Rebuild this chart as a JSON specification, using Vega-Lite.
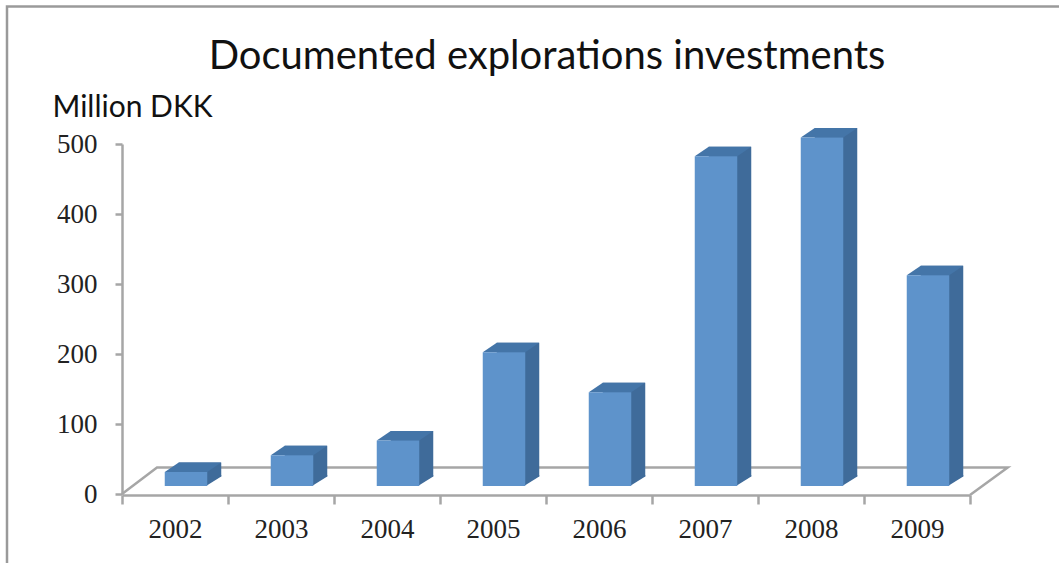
{
"$schema":"https://vega.github.io/schema/vega-lite/v6.json",
"width":848,"height":350,
"autosize":{"type":"none"},
"padding":{"left":122,"top":144,"right":89,"bottom":69},
"background":"white",
"view":{"stroke":null},
"title":{"text":"Documented explorations investments","font":"Lato","fontSize":40,"fontWeight":"normal","color":"#111111","anchor":"middle","frame":"group","baseline":"alphabetic","offset":-107,"dx":1},
"data":{"values":[
{"year":"2002","value":20},
{"year":"2003","value":44},
{"year":"2004","value":65},
{"year":"2005","value":191},
{"year":"2006","value":134},
{"year":"2007","value":471},
{"year":"2008","value":498},
{"year":"2009","value":301}
]},
"encoding":{
"x":{"field":"year","type":"nominal","scale":{"paddingInner":0,"paddingOuter":0},
"axis":{"title":null,"labelAngle":0,"tickBand":"extent","offset":1,"domainColor":"#a6a6a6","domainWidth":2.5,"tickColor":"#a6a6a6","tickWidth":2.5,"tickSize":9,"labelFont":"Liberation Serif","labelFontSize":27,"labelColor":"#222222","labelPadding":12,"grid":false}},
"y":{"field":"value","type":"quantitative","scale":{"domain":[0,500],"nice":false},
"axis":{"values":[0,100,200,300,400,500],"title":"Million DKK","titleAngle":0,"titleFont":"Lato","titleFontSize":30,"titleFontWeight":"normal","titleColor":"#111111","titleAlign":"left","titleBaseline":"alphabetic","titleX":-70,"titleY":-28,"domainColor":"#a6a6a6","domainWidth":2.5,"tickColor":"#a6a6a6","tickWidth":2.5,"tickSize":7,"labelFont":"Liberation Serif","labelFontSize":27,"labelColor":"#222222","labelPadding":18,"grid":false}}
},
"layer":[
{"data":{"values":[{"year":"2002","value":0}]},
"mark":{"type":"point","filled":false,"opacity":1,"size":4,"stroke":"#a6a6a6","strokeWidth":2.5,"shape":"M-53,0 L-18,-26.5 L832.7,-26.5 L795,1"}},
{"data":{"values":[{"year":"2002","value":0}]},
"mark":{"type":"point","filled":false,"opacity":1,"size":4,"stroke":"#9a9a9a","strokeWidth":2.5,"shape":"M890,-487.5 L-168,-487.5 L-168,80"}},
{"mark":{"type":"bar","size":42.5,"color":"#3f6b9a","xOffset":25,"x2Offset":25,"yOffset":-17.5,"y2Offset":-17.5}},
{"mark":{"type":"point","filled":true,"opacity":1,"size":4,"color":"#3f6b9a","strokeWidth":0,"shape":"M31,-8 L46.25,-17.5 L46.25,-19 L31,-19 Z"},"encoding":{"y":{"datum":0}}},
{"mark":{"type":"point","filled":true,"opacity":1,"size":4,"color":"#4475a8","strokeWidth":0,"shape":"M-10.25,-8 L3.75,-17.5 L46.25,-17.5 L32.25,-8 Z"}},
{"mark":{"type":"bar","size":42.5,"color":"#5e93cb","xOffset":11,"x2Offset":11,"yOffset":-8,"y2Offset":-8}}
]
}
